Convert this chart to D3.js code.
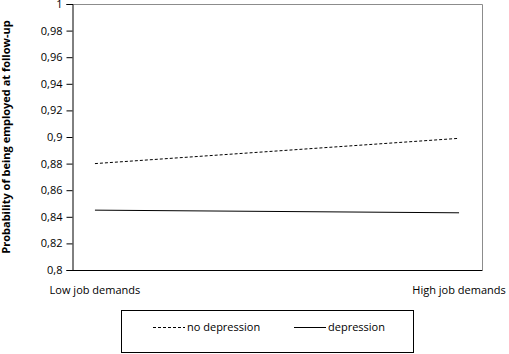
<!DOCTYPE html>
<html>
<head>
<meta charset="utf-8">
<script src="https://cdn.jsdelivr.net/npm/d3@7"></script>
<style>
  body { margin: 0; background: #fff; }
  text { font-family: "Open Sans", "Noto Sans", sans-serif; fill: #000; }
</style>
</head>
<body>
<div class="vis-linechart"></div>
<script>
const categories = ['Low job demands', 'High job demands'];
const noDepression = [0.880, 0.899];
const depression = [0.845, 0.843];
const yTicks = [0.8, 0.82, 0.84, 0.86, 0.88, 0.9, 0.92, 0.94, 0.96, 0.98, 1];

const width = 509;
const height = 354;
const margin = { top: 4, right: 27, bottom: 84, left: 72 };

const svg = d3.select('.vis-linechart')
  .append('svg')
  .attr('width', width)
  .attr('height', height);

const x = d3.scalePoint()
  .domain(categories)
  .range([margin.left, width - margin.right])
  .padding(0.063);

const y = d3.scaleLinear()
  .domain([0.8, 1])
  .range([height - margin.bottom, margin.top]);

const fmt = (d) => d3.format('.2~f')(d).replace('.', ',');

// plot frame (top and right in grey)
svg.append('path')
  .attr('d', `M${margin.left},${margin.top + 0.5}H${width - margin.right + 0.5}V${height - margin.bottom}`)
  .attr('fill', 'none')
  .attr('stroke', '#8c8c8c');

const yAxis = svg.append('g')
  .attr('transform', `translate(${margin.left + 0.5},0)`)
  .call(d3.axisLeft(y).tickValues(yTicks).tickFormat(fmt).tickSize(6).tickPadding(4));
yAxis.select('.domain').attr('stroke', '#000');
yAxis.selectAll('text').style('font-size', '11px').style('font-family', '"Open Sans", sans-serif').attr('fill', '#222');

svg.append('line')
  .attr('x1', margin.left)
  .attr('x2', width - margin.right + 0.5)
  .attr('y1', y(0.8) + 0.5)
  .attr('y2', y(0.8) + 0.5)
  .attr('stroke', '#000');

svg.selectAll('.xlabel')
  .data(categories)
  .enter()
  .append('text')
  .attr('class', 'xlabel')
  .attr('x', (d) => x(d))
  .attr('y', y(0.8) + 24)
  .attr('text-anchor', 'middle')
  .style('font-size', '11px')
  .text((d) => d);

svg.append('text')
  .attr('transform', `translate(10,${(y(0.8) + y(1)) / 2}) rotate(-90)`)
  .attr('text-anchor', 'middle')
  .style('font-size', '11px')
  .style('font-weight', 'bold')
  .text('Probability of being employed at follow-up');

const line = d3.line()
  .x((d, i) => x(categories[i]))
  .y((d) => y(d));

svg.append('path')
  .datum(noDepression)
  .attr('d', line)
  .attr('fill', 'none')
  .attr('stroke', '#000')
  .attr('stroke-width', 1)
  .attr('stroke-dasharray', '3,2');

svg.append('path')
  .datum(depression)
  .attr('d', line)
  .attr('fill', 'none')
  .attr('stroke', '#000')
  .attr('stroke-width', 1);

// legend
const legend = svg.append('g');
legend.append('rect')
  .attr('x', 121.5)
  .attr('y', 310.5)
  .attr('width', 292)
  .attr('height', 42)
  .attr('fill', '#fff')
  .attr('stroke', '#000');

const legendItems = [
  { label: 'no depression', dash: '3,2', x: 153 },
  { label: 'depression', dash: null, x: 294 },
];
legendItems.forEach((it) => {
  legend.append('line')
    .attr('x1', it.x)
    .attr('x2', it.x + 32)
    .attr('y1', 327.5)
    .attr('y2', 327.5)
    .attr('stroke', '#000')
    .attr('stroke-dasharray', it.dash);
  legend.append('text')
    .attr('x', it.x + 34)
    .attr('y', 331)
    .style('font-size', '11px')
    .text(it.label);
});
</script>
</body>
</html>
